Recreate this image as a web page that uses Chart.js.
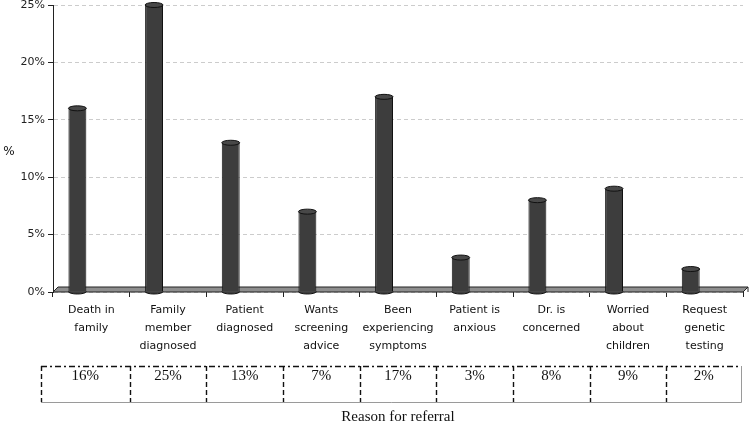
<!DOCTYPE html>
<html><head><meta charset="utf-8">
<script src="https://cdn.jsdelivr.net/npm/chart.js@4"></script>
<style>html,body{margin:0;padding:0;background:#fff}#wrap{width:750px;height:426px}</style>
</head><body><div id="wrap"><canvas id="c" width="750" height="426"></canvas></div>
<script>
const categories = [["Death in","family"],["Family","member","diagnosed"],["Patient","diagnosed"],["Wants","screening","advice"],["Been","experiencing","symptoms"],["Patient is","anxious"],["Dr. is","concerned"],["Worried","about","children"],["Request","genetic","testing"]];
const percentValues = [16,25,13,7,17,3,8,9,2];
const tableLabels = ["16%","25%","13%","7%","17%","3%","8%","9%","2%"];
const yMin = 0, yMax = 25, yStep = 5;
const xTitle = "Reason for referral";
const yTitle = "%";

const deco = {
  id: 'deco',
  beforeDatasetsDraw(chart) {
    const {ctx, chartArea: a} = chart;
    const d = 5;
    ctx.save();
    ctx.beginPath();
    ctx.moveTo(a.left, a.bottom);
    ctx.lineTo(a.left + d, a.bottom - d);
    ctx.lineTo(a.right + d, a.bottom - d);
    ctx.lineTo(a.right, a.bottom);
    ctx.closePath();
    ctx.fillStyle = '#8e8e8e';
    ctx.fill();
    ctx.strokeStyle = '#222';
    ctx.lineWidth = 1;
    ctx.stroke();
    ctx.beginPath();
    ctx.moveTo(a.right + d, a.bottom - d);
    ctx.lineTo(a.right + d, a.bottom);
    ctx.stroke();
    ctx.restore();
  },
  afterDatasetsDraw(chart) {
    const {ctx} = chart;
    const meta = chart.getDatasetMeta(0);
    ctx.save();
    meta.data.forEach(bar => {
      const p = bar.getProps(['x', 'y', 'width', 'base'], true);
      const rx = p.width / 2, ry = 2.5;
      ctx.fillStyle = '#3d3d3d';
      ctx.strokeStyle = '#111';
      ctx.lineWidth = 1;
      ctx.beginPath();
      ctx.ellipse(p.x, p.base, rx, ry, 0, 0, Math.PI);
      ctx.fill(); ctx.stroke();
      ctx.beginPath();
      ctx.ellipse(p.x, p.y, rx, ry, 0, 0, Math.PI * 2);
      ctx.fillStyle = '#484848';
      ctx.fill(); ctx.stroke();
    });
    ctx.restore();
  },
  afterDraw(chart) {
    const {ctx} = chart;
    const xs = chart.scales.x;
    const n = categories.length;
    const half = (xs.getPixelForValue(1) - xs.getPixelForValue(0)) / 2;
    const bounds = [];
    for (let i = 0; i <= n; i++) bounds.push(xs.getPixelForValue(i) - half);
    bounds[0] = xs.left - 12;
    bounds[n] = xs.right - 2;
    const top = 366, bottom = 402;
    ctx.save();
    ctx.strokeStyle = '#9a9a9a';
    ctx.lineWidth = 1;
    ctx.beginPath();
    ctx.moveTo(bounds[n] + 0.5, top);
    ctx.lineTo(bounds[n] + 0.5, bottom + 0.5);
    ctx.lineTo(bounds[0], bottom + 0.5);
    ctx.stroke();
    ctx.strokeStyle = '#111';
    ctx.lineWidth = 1.4;
    ctx.setLineDash([6, 3, 2, 3]);
    ctx.beginPath();
    ctx.moveTo(bounds[0], top + 0.5);
    ctx.lineTo(bounds[n], top + 0.5);
    ctx.stroke();
    ctx.setLineDash([5, 3]);
    for (let i = 0; i < n; i++) {
      const x = Math.round(bounds[i]) + 0.5;
      ctx.beginPath();
      ctx.moveTo(x, top);
      ctx.lineTo(x, bottom);
      ctx.stroke();
    }
    ctx.setLineDash([]);
    ctx.fillStyle = '#111';
    ctx.font = '15px "Liberation Serif"';
    ctx.textAlign = 'center';
    ctx.textBaseline = 'middle';
    for (let i = 0; i < n; i++) {
      ctx.fillText(tableLabels[i], (bounds[i] + bounds[i + 1]) / 2, top + 10);
    }
    ctx.font = '12px "DejaVu Sans"';
    ctx.fillText(yTitle, 9, 152);
    ctx.restore();
  }
};

new Chart(document.getElementById('c'), {
  type: 'bar',
  data: {
    labels: categories,
    datasets: [
      {label: 'Reason', data: percentValues, backgroundColor: '#3d3d3d', borderColor: '#111', borderWidth: 1,
       categoryPercentage: 0.727, barPercentage: 0.643},
      {label: 'spacer', data: percentValues.map(() => null), backgroundColor: 'rgba(0,0,0,0)',
       categoryPercentage: 0.727, barPercentage: 0.643}
    ]
  },
  options: {
    responsive: false,
    animation: false,
    devicePixelRatio: 1,
    layout: {padding: {left: 0, right: 7, top: 5, bottom: 0}},
    plugins: {legend: {display: false}, tooltip: {enabled: false}},
    scales: {
      x: {
        grid: {display: true, drawOnChartArea: false, drawTicks: true, tickLength: 5, tickColor: '#222', offset: true},
        border: {display: false},
        ticks: {font: {family: 'DejaVu Sans', size: 11, lineHeight: 1.64}, color: '#111', padding: 4, maxRotation: 0, autoSkip: false},
        title: {display: true, text: xTitle, font: {family: 'Liberation Serif', size: 15}, color: '#111', padding: {top: 0, bottom: 0}},
        afterFit(s) { s.height = 134; s.paddingLeft = 0; s.paddingRight = 0; }
      },
      y: {
        min: yMin, max: yMax,
        ticks: {stepSize: yStep, callback: v => v + '%', font: {family: 'DejaVu Sans', size: 11}, color: '#222', padding: 3},
        grid: {color: '#cccccc', tickColor: '#222', tickLength: 5, drawTicks: true},
        border: {display: true, color: '#222', width: 1, dash: [4, 3]},
        afterFit(s) { s.width = 53; s.paddingTop = 0; s.paddingBottom = 0; }
      }
    }
  },
  plugins: [deco]
});
</script>
</body></html>
